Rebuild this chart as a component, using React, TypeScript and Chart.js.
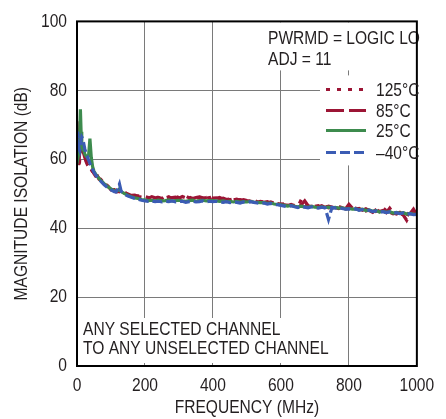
import React, { useEffect, useRef } from 'react';
import { Chart, registerables } from 'chart.js';

Chart.register(...registerables);

const FONT = '"Liberation Sans Narrow", "Liberation Sans", Arial, sans-serif';
const TEXT = '#231f20';
const SQUEEZE = 0.82;
const FSIZE = 19;

const freqMHz = [
  0, 2, 4, 6, 8, 10, 12, 14, 17, 20, 23, 26, 30, 34, 38, 42, 46, 50, 55, 60, 65, 70, 80, 90, 100, 110, 115, 120, 125, 130,
  140, 150, 160, 170, 180, 190, 200, 210, 220, 230, 240, 250, 260, 270, 280, 290, 300, 310, 320, 330, 340, 350, 360, 370, 380, 390,
  400, 410, 420, 430, 440, 450, 460, 470, 480, 490, 500, 510, 520, 530, 540, 550, 560, 570, 580, 590,
  600, 610, 620, 630, 640, 650, 660, 670, 680, 690, 700, 710, 720, 730, 740, 750, 760, 770, 780, 790,
  800, 810, 820, 830, 840, 850, 860, 870, 880, 890, 900, 910, 920, 930, 940, 950, 960, 970, 980, 990, 1000,
];

const iso125C = [
  69, 64, 60, 57.5, 60, 62, 63, 64, 63, 62, 61, 60, 59, 58, 57.4, 57, 56.4, 56, 55.5, 54.7, 54.5, 53.8, 53.2, 52.1, 51.6, 50.9, 50.9, 50.6, 50.8, 50.6,
  50.5, 49.7, 49.8, 49.3, 49.4, 49.1, 49.2, 48.9, 48.8, 49.2, 48.7, 49.0, 48.8, 49.1, 48.6, 49.2, 48.9, 48.7, 49.3, 48.8, 49.1, 48.7, 48.9, 49.3, 48.7, 48.9,
  49.0, 48.6, 48.9, 48.4, 48.6, 48.2, 48.5, 48.1, 48.3, 47.9, 48.2, 47.7, 47.9, 47.8, 47.5, 47.7, 47.3, 47.6, 47.2, 47.3,
  46.9, 47.1, 46.5, 46.7, 46.6, 46.3, 48.3, 46.6, 46.2, 46.6, 46.3, 46.5, 46.0, 46.3, 45.9, 46.2, 46.0, 45.7, 46.1, 45.5,
  45.9, 45.3, 45.8, 45.4, 45.6, 45.0, 45.4, 46.2, 44.9, 45.2, 44.7, 45.9, 44.6, 44.2, 44.5, 43.9, 44.4, 43.0, 45.7, 43.8, 44.5,
];

const iso85C = [
  71, 66, 58, 59.5, 62, 63, 64, 63.5, 62.5, 61.5, 60.5, 59.5, 58.5, 57.8, 57.3, 57, 56.6, 55.8, 55.1, 55.2, 54.2, 54.2, 52.9, 52.3, 51.1, 51.2, 50.6, 50.9, 50.6, 50.8,
  50.2, 49.9, 49.5, 49.6, 49.2, 49.0, 48.9, 48.7, 49.1, 48.8, 48.9, 48.6, 49.3, 48.8, 48.9, 49.0, 48.7, 49.2, 48.8, 49.0, 48.6, 48.9, 49.1, 48.8, 48.9, 49.2,
  48.7, 48.8, 48.5, 48.7, 48.3, 48.5, 48.2, 48.4, 48.0, 48.3, 48.0, 47.8, 48.2, 47.6, 47.8, 47.5, 47.7, 47.3, 47.5, 47.1,
  47.0, 46.8, 46.6, 46.9, 46.4, 46.6, 46.8, 47.9, 46.5, 46.3, 46.7, 46.2, 46.5, 46.0, 46.4, 46.1, 45.8, 46.3, 45.9, 45.6,
  46.9, 45.8, 45.4, 45.7, 45.2, 45.6, 45.1, 44.6, 45.5, 44.8, 45.1, 44.5, 45.8, 44.4, 44.1, 44.6, 43.8, 42.3, 44.2, 45.5, 43.8,
];

const iso25C = [
  61.5, 63, 61, 62, 68, 74.5, 68, 64, 63, 62.5, 61.5, 61, 60.5, 61, 66, 60.5, 57.8, 56.5, 55.7, 55, 54.4, 53.9, 52.9, 52.1, 51.4, 50.9, 50.8, 50.9, 51.4, 50.6,
  50.0, 49.5, 49.1, 48.8, 48.6, 48.3, 48.2, 48.0, 48.1, 47.9, 48.1, 47.9, 48.0, 48.2, 47.9, 48.0, 48.1, 47.9, 47.8, 48.0, 48.1, 47.8, 48.0, 48.1, 47.9, 48.0,
  48.0, 47.9, 47.8, 47.9, 47.7, 47.8, 47.6, 47.8, 47.6, 47.7, 47.6, 47.8, 47.6, 47.5, 47.4, 47.4, 47.2, 47.3, 47.0, 46.9,
  46.8, 46.6, 46.4, 46.6, 46.3, 46.2, 46.4, 46.2, 46.1, 46.3, 46.1, 46.0, 46.2, 46.0, 46.1, 45.9, 46.0, 45.8, 45.9, 45.6,
  45.7, 45.5, 45.6, 45.3, 45.5, 45.1, 45.3, 44.9, 45.1, 44.7, 44.9, 44.6, 44.8, 44.4, 44.6, 44.3, 44.5, 44.1, 44.3, 44.0, 44.1,
];

const isoMinus40C = [
  63, 68, 66, 63, 62.5, 64, 65.5, 66.5, 66, 64.5, 63, 62, 61, 59.8, 58.8, 58, 57, 56.2, 55.4, 54.8, 54.2, 53.6, 52.6, 51.8, 51.1, 50.6, 50.5, 51.5, 52.8, 50.7,
  49.8, 49.3, 49.0, 48.6, 48.4, 48.1, 47.9, 47.8, 47.9, 47.7, 47.8, 47.6, 47.8, 47.7, 47.9, 47.6, 47.7, 47.8, 47.5, 47.7, 47.8, 47.6, 47.7, 47.9, 47.6, 47.8,
  47.7, 47.8, 47.6, 47.5, 47.7, 47.4, 47.6, 47.5, 47.3, 47.6, 47.4, 47.7, 47.5, 47.3, 47.2, 47.3, 47.0, 47.2, 46.9, 46.8,
  46.6, 46.4, 46.2, 46.5, 46.2, 46.0, 46.3, 46.1, 45.9, 46.2, 46.0, 45.8, 46.1, 45.9, 42.5, 46.0, 45.8, 46.0, 45.7, 45.5,
  45.6, 45.4, 45.6, 45.2, 45.4, 45.0, 45.2, 44.8, 45.0, 44.6, 44.8, 44.5, 44.7, 44.3, 44.5, 44.2, 44.4, 44.0, 44.2, 43.9, 44.0,
];

const xTickValues = [0, 200, 400, 600, 800, 1000];
const yTickValues = [0, 20, 40, 60, 80, 100];
const seriesLabels = ['125°C', '85°C', '25°C', '–40°C'];
const seriesColors = ['#9c1535', '#9c1535', '#3d8b4e', '#3b5cb4'];
const seriesDashes = [[4, 7], [18, 5], [], [10, 4]];
const noteTop = ['PWRMD = LOGIC LO', 'ADJ = 11'];
const noteBottom = ['ANY SELECTED CHANNEL', 'TO ANY UNSELECTED CHANNEL'];
const xTitle = 'FREQUENCY (MHz)';
const yTitle = 'MAGNITUDE ISOLATION (dB)';

// Horizontally condense every text string drawn on the chart canvas (no narrow font installed).
const condensePlugin = {
  id: 'condense',
  beforeInit(chart: any) {
    const ctx = chart.ctx;
    if (ctx.__condensed) return;
    ctx.__condensed = true;
    const orig = ctx.fillText.bind(ctx);
    ctx.fillText = (text: string, x: number, y: number, maxWidth?: number) => {
      ctx.save();
      ctx.translate(x, y);
      ctx.scale(SQUEEZE, 1);
      if (maxWidth === undefined) orig(text, 0, 0);
      else orig(text, 0, 0, maxWidth / SQUEEZE);
      ctx.restore();
    };
  },
};

const overlayPlugin = {
  id: 'overlay',
  beforeDatasetsDraw(chart: any) {
    const ctx = chart.ctx;
    const { left, right, top, bottom } = chart.chartArea;
    ctx.save();
    ctx.fillStyle = '#ffffff';
    ctx.fillRect(left + 185, top + 1, right - left - 186, 48);
    ctx.fillRect(left + 243, top + 54, 106, 90);
    ctx.fillRect(left + 1, bottom - 48, 254, 45);
    ctx.fillStyle = TEXT;
    ctx.font = `${FSIZE}px ${FONT}`;
    ctx.textAlign = 'left';
    ctx.textBaseline = 'middle';
    ctx.fillText(noteTop[0], left + 191, top + 17);
    ctx.fillText(noteTop[1], left + 191, top + 38);
    ctx.fillText(noteBottom[0], left + 6, bottom - 36);
    ctx.fillText(noteBottom[1], left + 6, bottom - 17);
    ctx.restore();
  },
  afterDatasetsDraw(chart: any) {
    const ctx = chart.ctx;
    const { left, right, top, bottom } = chart.chartArea;
    ctx.save();
    ctx.strokeStyle = '#000000';
    ctx.lineWidth = 2;
    ctx.strokeRect(left, top, right - left, bottom - top);
    const rows = [top + 68, top + 89, top + 109, top + 131];
    ctx.font = `${FSIZE}px ${FONT}`;
    ctx.textAlign = 'left';
    ctx.textBaseline = 'middle';
    seriesLabels.forEach((lab, i) => {
      ctx.strokeStyle = seriesColors[i];
      ctx.lineWidth = 3;
      ctx.setLineDash(seriesDashes[i]);
      ctx.beginPath();
      ctx.moveTo(left + 249, rows[i]);
      ctx.lineTo(left + 289, rows[i]);
      ctx.stroke();
      ctx.setLineDash([]);
      ctx.fillStyle = TEXT;
      ctx.fillText(lab, left + 299, rows[i] + 1);
    });
    ctx.restore();
  },
};

export default function App() {
  const ref = useRef<HTMLCanvasElement | null>(null);
  useEffect(() => {
    document.body.style.margin = '0';
    const canvas = ref.current;
    if (!canvas) return;
    const series = [isoMinus40C, iso25C, iso85C, iso125C];
    const idx = [3, 2, 1, 0];
    const datasets = series.map((vals, k) => {
      const i = idx[k];
      return {
        label: seriesLabels[i],
        data: freqMHz.map((f, j) => ({ x: f, y: vals[j] })),
        borderColor: seriesColors[i],
        borderWidth: 3.2,
        borderDash: seriesDashes[i],
        pointRadius: 0,
        tension: 0,
        fill: false,
        order: k,
      };
    });
    const tickFont = { family: FONT, size: FSIZE };
    const chart = new Chart(canvas, {
      type: 'line',
      data: { datasets },
      plugins: [condensePlugin, overlayPlugin],
      options: {
        animation: false,
        responsive: false,
        devicePixelRatio: 1,
        layout: { padding: { left: 0, top: 16, right: 18, bottom: 0 } },
        plugins: { legend: { display: false }, tooltip: { enabled: false } },
        scales: {
          x: {
            type: 'linear',
            min: 0,
            max: 1000,
            afterBuildTicks: (s: any) => { s.ticks = xTickValues.map((v) => ({ value: v })); },
            afterFit: (s: any) => { s.height = 53; },
            grid: { color: '#7a7a7a', lineWidth: 1, drawTicks: false },
            border: { display: false },
            ticks: { color: TEXT, font: tickFont, padding: 8, maxRotation: 0, autoSkip: false, callback: (v: any) => String(v) },
            title: { display: true, text: xTitle, color: TEXT, font: tickFont, padding: { top: 0, bottom: 0 } },
          },
          y: {
            type: 'linear',
            min: 0,
            max: 100,
            afterBuildTicks: (s: any) => { s.ticks = yTickValues.map((v) => ({ value: v })); },
            afterFit: (s: any) => { s.width = 77; },
            grid: { color: '#7a7a7a', lineWidth: 1, drawTicks: false },
            border: { display: false },
            ticks: { color: TEXT, font: tickFont, padding: 10, callback: (v: any) => String(v) },
            title: { display: true, text: yTitle, color: TEXT, font: tickFont, padding: { top: 10, bottom: 0 } },
          },
        },
      },
    });
    return () => chart.destroy();
  }, []);
  return (
    <div style={{ width: 446, height: 419 }}>
      <canvas ref={ref} width={446} height={419} style={{ display: 'block' }} />
    </div>
  );
}
